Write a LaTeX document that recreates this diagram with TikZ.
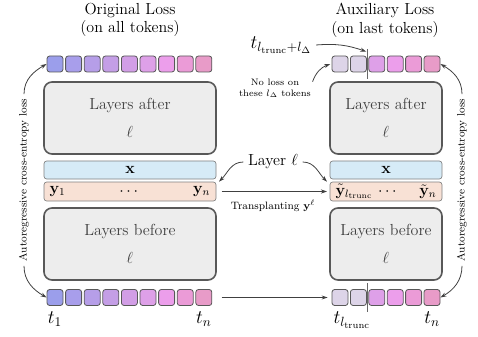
\documentclass[tikz,border=0pt]{standalone}
\usepackage{tikz}
\usetikzlibrary{positioning}
\usetikzlibrary{calc}
\usetikzlibrary{arrows.meta}
\usepackage{amsmath}
\definecolor{tok1}{RGB}{155,158,235}
\definecolor{tok2}{RGB}{168,158,235}
\definecolor{tok3}{RGB}{182,158,232}
\definecolor{tok4}{RGB}{196,158,230}
\definecolor{tok5}{RGB}{210,158,230}
\definecolor{tok6}{RGB}{222,160,232}
\definecolor{tok7}{RGB}{236,158,235}
\definecolor{tok8}{RGB}{235,155,215}
\definecolor{tok9}{RGB}{232,155,200}
\definecolor{tokpale}{RGB}{221,212,232}
\definecolor{boxgray}{RGB}{237,237,237}
\definecolor{edgegray}{RGB}{88,88,88}
\definecolor{xblue}{RGB}{214,235,247}
\definecolor{ypeach}{RGB}{248,225,213}

\begin{document}
\begin{tikzpicture}[x=0.75pt,y=0.75pt,
		tok/.style={draw=edgegray,line width=0.6pt,rounded corners=2pt,minimum size=12pt,inner sep=0pt},
		layerbox/.style={draw=edgegray,fill=boxgray,line width=1.2pt,rounded corners=6pt,align=center,font=\large,text=black!75,inner sep=0pt,minimum height=54pt},
		vecbox/.style={draw=black!50,line width=0.5pt,rounded corners=2pt,inner sep=0pt},
		lossarrow/.style={-{Stealth[length=4.5pt,width=3pt]},draw=black!75,line width=0.6pt}]
		\useasboundingbox (0,0) rectangle (478,336);

		% column titles
		\node[font=\large,align=center] (titleL) at (130,316) {Original Loss\\(on all tokens)};
		\node[font=\large,align=center] (titleR) at (385,316) {Auxiliary Loss\\(on last tokens)};

		% left column: full forward pass
		\foreach \i in {1,...,9} {
			\node[tok,fill=tok\i] (a\i) at ({55+18.6*(\i-1)},272) {};
			\node[tok,fill=tok\i] (b\i) at ({55+18.6*(\i-1)},38.5) {};
		}
		\node[layerbox,minimum width=129pt] (afterL) at (130,218) {Layers after\\[7pt]$\ell$};
		\node[vecbox,fill=xblue,minimum width=129pt,minimum height=13.5pt] (xL) at (130,166) {};
		\node[vecbox,fill=ypeach,minimum width=129pt,minimum height=14.25pt] (yL) at (130,144.5) {};
		\node[layerbox,minimum width=129pt] (beforeL) at (130,92) {Layers before\\[7pt]$\ell$};
		\node[font=\large] (xtxtL) at (xL) {$\mathbf{x}$};
		\node[font=\large,anchor=west] (y1L) at ([xshift=1pt]yL.west) {$\mathbf{y}_1$};
		\node[font=\large] (dotsL) at (yL) {$\cdots$};
		\node[font=\large,anchor=east] (ynL) at ([xshift=-1pt]yL.east) {$\mathbf{y}_n$};
		\node[font=\Large,below=1pt of b1] (t1) {$t_1$};
		\node[font=\Large,below=1pt of b9] (tn) {$t_n$};

		% right column: truncated pass
		\foreach \j/\c in {1/tokpale,2/tokpale,3/tok6,4/tok7,5/tok8,6/tok9} {
			\node[tok,fill=\c] (c\j) at ({340+18.4*(\j-1)},272) {};
			\node[tok,fill=\c] (d\j) at ({340+18.4*(\j-1)},38.5) {};
		}
		\draw[black!60,line width=0.4pt] ($(c2)!0.5!(c3)+(0,15)$) coordinate (cutTop) -- ($(c2)!0.5!(c3)-(0,15)$);
		\draw[black!60,line width=0.4pt] ($(d2)!0.5!(d3)+(0,14.5)$) -- ($(d2)!0.5!(d3)-(0,14.5)$);
		\node[layerbox,minimum width=84pt] (afterR) at (386,218) {Layers after\\[7pt]$\ell$};
		\node[vecbox,fill=xblue,minimum width=84pt,minimum height=13.5pt] (xR) at (386,166) {};
		\node[vecbox,fill=ypeach,minimum width=84pt,minimum height=14.25pt] (yR) at (386,144.5) {};
		\node[layerbox,minimum width=84pt] (beforeR) at (386,92) {Layers before\\[7pt]$\ell$};
		\node[font=\large] (xtxtR) at (xR) {$\mathbf{x}$};
		\node[font=\large,anchor=west] (y1R) at ([xshift=1pt]yR.west) {$\tilde{\mathbf{y}}_{l_{\mathrm{trunc}}}$};
		\node[font=\large] (dotsR) at ([xshift=2pt]yR) {$\cdots$};
		\node[font=\large,anchor=east] (ynR) at ([xshift=-1pt]yR.east) {$\tilde{\mathbf{y}}_n$};
		\node[font=\Large,below=1pt of d1,xshift=9pt] (ttrunc) {$t_{l_{\mathrm{trunc}}}$};
		\node[font=\Large,below=1pt of d6] (tnR) {$t_n$};

		% labels between the columns
		\node[font=\Large] (tdelta) at (281,291) {$t_{l_{\mathrm{trunc}}+l_\Delta}$};
		\node[font=\scriptsize,align=center,inner sep=1pt] (noloss) at (275,247.5) {No loss on\\these $l_\Delta$ tokens};
		\node[font=\large] (layer) at (273,174) {Layer $\ell$};
		\node[rotate=90,font=\footnotesize] (lossL) at (24,156) {Autoregressive cross-entropy loss};
		\node[rotate=90,font=\footnotesize] (lossR) at (462,156) {Autoregressive cross-entropy loss};

		% connectors
		\draw[lossarrow] (lossL.east) to[out=90,in=210] (a1.west);
		\draw[lossarrow] (lossL.west) to[out=-90,in=150] (b1.west);
		\draw[lossarrow] (lossR.east) to[out=90,in=-30] (c6.east);
		\draw[lossarrow] (lossR.west) to[out=-90,in=30] (d6.east);
		\draw[lossarrow] (tdelta.east) to[bend left=12] ([shift={(-1pt,-2pt)}]cutTop);
		\draw[lossarrow] ([yshift=-3pt]noloss.north east) to[out=70,in=200] ([xshift=-1pt]c1.west);
		\draw[lossarrow] (layer.west) to[out=180,in=45] ([xshift=2pt]yL.north east);
		\draw[lossarrow] (layer.east) to[out=0,in=135] ([xshift=-2pt]yR.north west);
		\draw[lossarrow,shorten <=4pt,shorten >=2pt] (yL.east) -- (yR.west)
			node[midway,below=3pt,font=\footnotesize] (transp) {Transplanting $\mathbf{y}^\ell$};
		\draw[lossarrow,shorten <=7pt,shorten >=3pt] (b9.east) -- (d1.west);
	\end{tikzpicture}
\end{document}
